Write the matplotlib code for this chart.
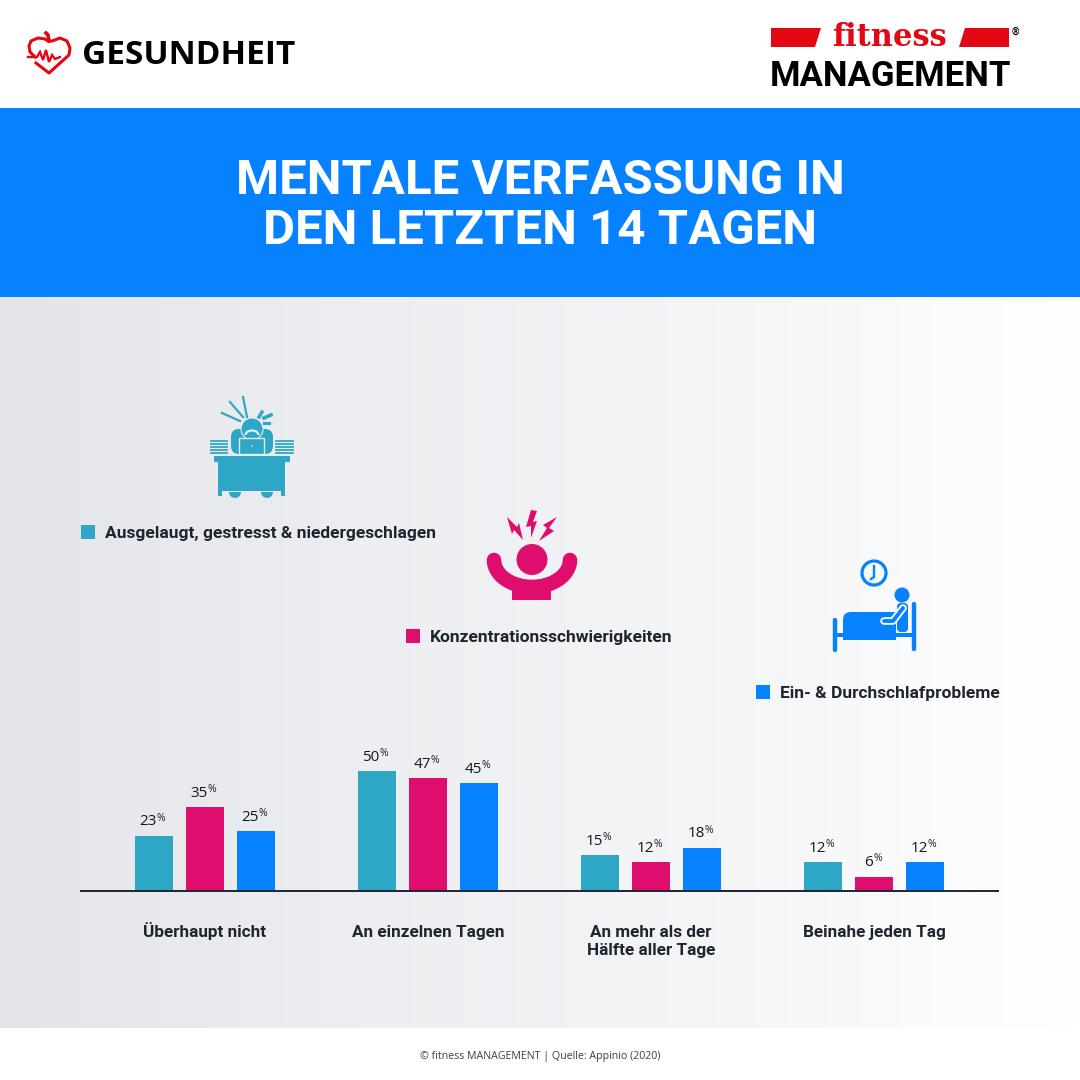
# coding: utf-8
import numpy as np
import matplotlib
matplotlib.use('Agg')
import matplotlib.pyplot as plt
from matplotlib.patches import Rectangle, Circle, Polygon, FancyBboxPatch, Arc, Wedge
from matplotlib.transforms import ScaledTranslation

kategorien = ['Überhaupt nicht', 'An einzelnen Tagen', 'An mehr als der\nHälfte aller Tage', 'Beinahe jeden Tag']
ausgelaugt = [23, 50, 15, 12]
konzentration = [35, 47, 12, 6]
schlaf = [25, 45, 18, 12]
namen = ['Ausgelaugt, gestresst & niedergeschlagen', 'Konzentrationsschwierigkeiten', 'Ein- & Durchschlafprobleme']
titel = ['MENTALE VERFASSUNG IN', 'DEN LETZTEN 14 TAGEN']

TUERKIS = '#2EA7C6'
PINK = '#DE0D6E'
BLAU = '#0681FF'
ROT = '#E30613'
DUNKEL = '#1E2430'

fig = plt.figure(figsize=(10.8, 10.8), dpi=100, facecolor='white')

# ebene in pixeln fuer hintergrund, logos und icons
bg = fig.add_axes([0, 0, 1, 1], zorder=0)
bg.axis('off')

verlauf = np.linspace(0, 1, 256).reshape(1, -1)
cmap = matplotlib.colors.LinearSegmentedColormap.from_list('v', ['#E3E5E8', '#EDEEF1', '#F4F5F7', '#FFFFFF'])
bg.imshow(verlauf, extent=(0, 1080, 1028, 297), cmap=cmap, aspect='auto', zorder=0)
bg.set_xlim(0, 1080)
bg.set_ylim(1080, 0)
bg.add_patch(Rectangle((0, 108), 1080, 189, color=BLAU, lw=0))

# kopfzeile links
bg.plot([28, 37, 40, 43, 46, 49, 52, 55, 60], [57, 57, 52, 60, 50, 62, 55, 59, 57], color=ROT, lw=1.7, solid_joinstyle='miter')
bg.plot([35, 30, 29, 31, 38, 45, 48, 52, 60, 67, 70, 69, 49, 36],
        [57, 52, 46, 41, 38, 39, 41, 41, 38, 41, 48, 55, 73, 63], color=ROT, lw=2.2)
bg.plot([46, 48, 49], [33, 35, 41], color=ROT, lw=2.6)
bg.text(82, 55.5, 'GESUNDHEIT', family='Open Sans', weight='bold', fontsize=24, color='black', va='center', ha='left')

# kopfzeile rechts
bg.add_patch(Polygon([(771, 28), (821, 28), (815, 47), (771, 47)], color=ROT, lw=0))
bg.add_patch(Polygon([(959, 47), (965, 28), (1009, 28), (1009, 47)], color=ROT, lw=0))
bg.text(889.5, 46, 'fitness', family='DejaVu Serif', weight='bold', fontsize=22, color=ROT, va='baseline', ha='center')
bg.text(1015, 32, '®', family='Roboto', weight='bold', fontsize=7, color='black', va='center', ha='center')
bg.text(890, 86, 'MANAGEMENT', family='Roboto', weight='bold', fontsize=25, color='black', va='baseline', ha='center')

# titel
for i, zeile in enumerate(titel):
    bg.text(540, 194.5 + i * 50, zeile, family='Roboto', weight='bold', fontsize=35.4, color='white', va='baseline', ha='center')

# legende
farben = [TUERKIS, PINK, BLAU]
leg_x = [81, 406, 756]
leg_y = [532, 636, 692]
for n, c, x, y in zip(namen, farben, leg_x, leg_y):
    bg.add_patch(Rectangle((x, y - 7), 14, 14, color=c, lw=0))
    bg.text(x + 24, y + 1.5, n, family='Roboto', weight='bold', fontsize=12.5, color=DUNKEL, va='center', ha='left')

# icon schreibtisch
bg.add_patch(FancyBboxPatch((231, 429), 42, 25, boxstyle='round,pad=0,rounding_size=8', color=TUERKIS, lw=0))
bg.add_patch(Circle((252, 429), 11, facecolor=TUERKIS, edgecolor='#E8E9EC', lw=0.8))
bg.add_patch(Arc((252, 435), 13, 9, theta1=180, theta2=360, color='#E8E9EC', lw=1.6))
bg.add_patch(Rectangle((239, 438), 25, 16, facecolor=TUERKIS, edgecolor='#E8E9EC', lw=1))
bg.add_patch(Circle((252, 446), 0.8, color='#E8E9EC', lw=0))
bg.add_patch(Rectangle((214, 456), 76, 6, color=TUERKIS, lw=0))
bg.add_patch(Rectangle((218, 462), 67, 29, color=TUERKIS, lw=0))
bg.add_patch(Rectangle((218, 491), 4, 5, color=TUERKIS, lw=0))
bg.add_patch(Rectangle((281, 491), 4, 5, color=TUERKIS, lw=0))
bg.add_patch(Wedge((235, 492), 6, 0, 180, color=TUERKIS, lw=0))
bg.add_patch(Wedge((267, 492), 6, 0, 180, color=TUERKIS, lw=0))
for y in [441, 444, 447, 450, 453]:
    bg.plot([211, 227], [y, y], color=TUERKIS, lw=1.3)
    bg.plot([276, 293], [y, y], color=TUERKIS, lw=1.3)
bg.plot([222, 240], [413, 421], color=TUERKIS, lw=1.6)
bg.plot([230, 243], [402, 417], color=TUERKIS, lw=1.6)
bg.plot([243, 247], [397, 417], color=TUERKIS, lw=1.6)
bg.plot([259, 262], [417, 412], color=TUERKIS, lw=2.4)
bg.plot([264, 271], [418, 415], color=TUERKIS, lw=2.6)
bg.plot([264, 269], [423, 423], color=TUERKIS, lw=2.2)

# icon stress
bg.add_patch(Circle((532, 559.5), 15.5, color=PINK, lw=0))
bg.add_patch(Rectangle((512, 586), 39, 13.5, color=PINK, lw=0))
w = np.radians(np.arange(0, 181, 6))
arm_x = 532 + 38 * np.cos(w)
arm_y = 560 + 27 * np.sin(w)
bg.plot(arm_x, arm_y, color=PINK, lw=10.5, solid_capstyle='round')
bg.add_patch(Polygon([(507, 517), (517, 527), (519, 523), (523, 540), (514, 530), (512, 534)], color=PINK, lw=0))
bg.add_patch(Polygon([(531, 510), (526, 527), (531, 526), (531, 538), (537, 521), (533, 522), (537, 511)], color=PINK, lw=0))
bg.add_patch(Polygon([(557, 517), (543, 525), (547, 528), (539, 541), (554, 531), (549, 528)], color=PINK, lw=0))

# icon bett
bg.add_patch(Circle((874, 573), 12, facecolor='none', edgecolor=BLAU, lw=2.3))
bg.plot([874, 874, 871], [566, 577, 579], color=BLAU, lw=1.7)
bg.add_patch(Circle((902, 595), 7.5, color=BLAU, lw=0))
bg.plot([835, 835], [620, 650], color=BLAU, lw=3.2, solid_capstyle='round')
bg.plot([914, 914], [604, 649], color=BLAU, lw=3.2, solid_capstyle='round')
bg.add_patch(Rectangle((835, 633), 80, 4, color=BLAU, lw=0))
bg.add_patch(FancyBboxPatch((843, 612), 53, 28, boxstyle='round,pad=0,rounding_size=8', color=BLAU, lw=0))
bg.add_patch(Rectangle((843, 625), 53, 15, color=BLAU, lw=0))
bg.add_patch(Rectangle((880, 612), 16, 15, color=BLAU, lw=0))
bg.add_patch(FancyBboxPatch((897, 603), 11, 29, boxstyle='round,pad=0,rounding_size=4', color=BLAU, lw=0))
bg.plot([903, 893, 884], [608, 621, 621], color='#F8F9FA', lw=5.5, solid_capstyle='round')
bg.plot([903, 893, 884], [608, 621, 621], color=BLAU, lw=2.8, solid_capstyle='round')

# fusszeile
bg.text(540, 1056.5, '© fitness MANAGEMENT | Quelle: Appinio (2020)', family='Open Sans', fontsize=7.7,
        color='#3A3F47', va='center', ha='center')

# balken
ax = fig.add_axes([81 / 1080, (1080 - 891) / 1080, 917 / 1080, 240 / 1080], zorder=1)
ax.patch.set_alpha(0)
x = np.arange(len(kategorien))
schritt = 51 / 223
breite = 38 / 223
reihen = [ausgelaugt, konzentration, schlaf]
for j, (werte, c) in enumerate(zip(reihen, farben)):
    balken = ax.bar(x + (j - 1) * schritt, werte, breite, color=c, zorder=2)
    for b, v in zip(balken, werte):
        xm = b.get_x() + b.get_width() / 2
        dx = 2 if v >= 10 else -0.5
        ax.annotate(str(v), (xm, v), xytext=(dx, 7.5), textcoords='offset points', family='Open Sans',
                    fontsize=11, color='#14181F', ha='right', va='baseline')
        ax.annotate('%', (xm, v), xytext=(dx, 11), textcoords='offset points', family='Open Sans',
                    fontsize=7.5, color=DUNKEL, ha='left', va='baseline')
ax.set_xlim((81 - 205) / 223, (998 - 205) / 223)
ax.set_ylim(0, 100)
ax.set_yticks([])
ax.set_xticks(x)
ax.set_xticklabels(kategorien, family='Roboto', weight='bold', fontsize=12.3, color=DUNKEL, linespacing=1.25)
ax.tick_params(axis='x', length=0, pad=24.5)
# Ü macht die erste beschriftung hoeher, sonst steht sie tiefer als die anderen
erste = ax.get_xticklabels()[0]
erste.set_transform(erste.get_transform() + ScaledTranslation(0, 3 / 100, fig.dpi_scale_trans))
for s in ['top', 'left', 'right']:
    ax.spines[s].set_visible(False)
ax.spines['bottom'].set_color(DUNKEL)
ax.spines['bottom'].set_linewidth(1.4)

fig.savefig('out.png', dpi=100)
